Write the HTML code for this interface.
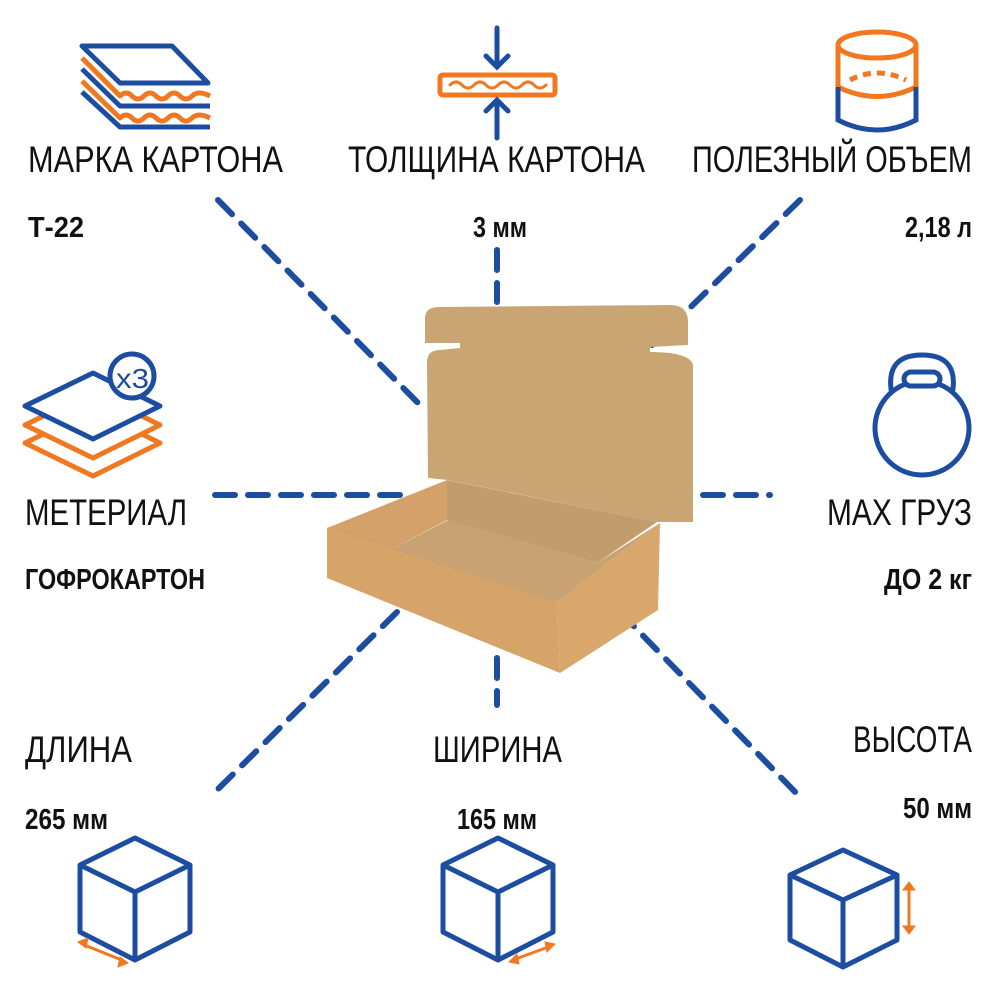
<!DOCTYPE html>
<html><head><meta charset="utf-8"><style>
html,body{margin:0;padding:0;background:#fff;}
svg{display:block}
.l{font-family:"Liberation Sans",sans-serif;font-size:37px;fill:#111}
.v{font-family:"Liberation Sans",sans-serif;font-size:29px;font-weight:bold;fill:#111}
</style></head><body>
<svg width="1000" height="1000" viewBox="0 0 1000 1000" xmlns="http://www.w3.org/2000/svg">
<g stroke="#1c4da0" stroke-width="6" stroke-dasharray="20 13" fill="none" stroke-linecap="round">
<line x1="218" y1="200" x2="420" y2="405"/>
<line x1="497" y1="250" x2="497" y2="302"/>
<line x1="800" y1="200" x2="652" y2="345"/>
<line x1="215" y1="495" x2="405" y2="495"/>
<line x1="703" y1="495" x2="770" y2="495"/>
<line x1="397" y1="612" x2="210" y2="797"/>
<line x1="497" y1="658" x2="497" y2="705"/>
<line x1="620" y1="612" x2="800" y2="797"/>
</g>
<g>
<path d="M425,318 Q425,307 440,307 L672,305 Q688,306 688,322 L688,345 L650,347 L650,352 Q690,352 693,365 L693,522 L657,522 L448,480 L428,478 L427,362 Q427,350 440,350 L460,348 L460,343 L425,343 Z" fill="#c9a574"/>
<path d="M327,528 L447,480 L447,520 L387,552 Z" fill="#d4a16a"/>
<path d="M447,480 L447,520 L597,563 L657,522 Z" fill="#c19c6c"/>
<path d="M387,552 L448,520 L597,563 L660,523 L557,602 Z" fill="#c8a273"/>
<path d="M327,528 L557,602 L560,673 L327,578 Z" fill="#d6a468"/>
<path d="M557,602 L660,523 L658,610 L560,673 Z" fill="#d9a66c"/>
</g>
<g fill="none" stroke-width="5" stroke-linejoin="round">
<path d="M82,46 L172,46 L208,83 L120,83 Z" stroke="#1c4da0"/>
<path d="M82,58 L120,96 Q126,90 132,96 T144,96 T156,96 T168,96 T180,96 T192,96 T210,96" stroke="#f07820"/>
<path d="M82,69 L120,106 L210,106" stroke="#1c4da0"/>
<path d="M82,81 L120,118 Q126,112 132,118 T144,118 T156,118 T168,118 T180,118 T192,118 T210,118" stroke="#f07820"/>
<path d="M82,92 L120,127 L210,127" stroke="#1c4da0"/>
</g>
<g fill="none" stroke-linecap="round">
<rect x="440" y="75" width="115" height="20" rx="3" stroke="#f07820" stroke-width="5"/>
<path d="M450,85 q6,-6 12,0 t12,0 t12,0 t12,0 t12,0 t12,0 t12,0 t12,0" stroke="#f07820" stroke-width="3"/>
<path d="M497,28 L497,66 M486,56 L497,67 L508,56" stroke="#1c4da0" stroke-width="5"/>
<path d="M497,138 L497,103 M486,111 L497,100 L508,111" stroke="#1c4da0" stroke-width="5"/>
</g>
<g fill="none" stroke-width="5">
<ellipse cx="877" cy="45" rx="39" ry="13" stroke="#f07820"/>
<path d="M838,45 L838,87 M916,45 L916,87" stroke="#f07820"/>
<path d="M838,87 Q877,106 916,87" stroke="#f07820"/>
<path d="M850,80 Q877,66 906,80" stroke="#f07820" stroke-dasharray="8 6"/>
<path d="M838,87 L838,120 Q877,140 916,120 L916,87" stroke="#1c4da0"/>
</g>
<g fill="none" stroke-width="5" stroke-linejoin="round">
<path d="M25,443 L93,410 L160,443 L93,476 Z" stroke="#f07820"/>
<path d="M25,425 L93,392 L160,425 L93,458 Z" stroke="#f07820" fill="#fff"/>
<path d="M25,406 L93,373 L160,406 L93,439 Z" stroke="#1c4da0" fill="#fff"/>
<circle cx="132" cy="376" r="22" stroke="#1c4da0" fill="#fff"/>
</g>
<text x="116" y="388" font-family="Liberation Sans,sans-serif" font-size="28" fill="#1c4da0" textLength="33" lengthAdjust="spacingAndGlyphs">x3</text>
<g fill="none" stroke="#1c4da0" stroke-width="5">
<path d="M892,395 Q884,355 922,355 Q960,355 952,395"/>
<circle cx="922" cy="428" r="47" fill="#fff"/>
<rect x="904" y="372" width="36" height="14" rx="7" fill="#fff"/>
</g>
<g fill="none" stroke="#1c4da0" stroke-width="5" stroke-linejoin="round">
<path d="M135,838 L190,865 L190,932 L135,960 L80,932 L80,865 Z M80,865 L135,892 L190,865 M135,892 L135,960"/>
<path d="M498,838 L553,865 L553,932 L498,960 L443,932 L443,865 Z M443,865 L498,892 L553,865 M498,892 L498,960"/>
<path d="M843,850 L897,875 L897,940 L843,967 L790,940 L790,875 Z M790,875 L843,900 L897,875 M843,900 L843,967"/>
</g>
<g stroke="#f07820" stroke-width="3" fill="#f07820">
<line x1="82" y1="944" x2="124" y2="961"/>
<path d="M78,942 L88,938 L86,948 Z M128,963 L118,967 L120,957 Z" stroke-width="1"/>
<line x1="513" y1="960" x2="551" y2="946"/>
<path d="M509,962 L517,954 L519,964 Z M555,944 L547,952 L545,942 Z" stroke-width="1"/>
<line x1="909" y1="888" x2="909" y2="928"/>
<path d="M903,890 L909,882 L915,890 Z M903,926 L909,934 L915,926 Z" stroke-width="1"/>
</g>
<text class="l" x="28" y="172" textLength="255" lengthAdjust="spacingAndGlyphs">МАРКА КАРТОНА</text>
<text class="l" x="348" y="172" textLength="297" lengthAdjust="spacingAndGlyphs">ТОЛЩИНА КАРТОНА</text>
<text class="l" x="692" y="172" textLength="280" lengthAdjust="spacingAndGlyphs">ПОЛЕЗНЫЙ ОБЪЕМ</text>
<text class="v" x="28" y="237" textLength="56" lengthAdjust="spacingAndGlyphs">Т-22</text>
<text class="v" x="473" y="237" textLength="54" lengthAdjust="spacingAndGlyphs">3 мм</text>
<text class="v" x="905" y="237" textLength="67" lengthAdjust="spacingAndGlyphs">2,18 л</text>
<text class="l" x="25" y="525" textLength="162" lengthAdjust="spacingAndGlyphs">МЕТЕРИАЛ</text>
<text class="v" x="25" y="589" textLength="180" lengthAdjust="spacingAndGlyphs">ГОФРОКАРТОН</text>
<text class="l" x="827" y="525" textLength="145" lengthAdjust="spacingAndGlyphs">MAX ГРУЗ</text>
<text class="v" x="884" y="589" textLength="88" lengthAdjust="spacingAndGlyphs">ДО 2 кг</text>
<text class="l" x="25" y="762" textLength="107" lengthAdjust="spacingAndGlyphs">ДЛИНА</text>
<text class="l" x="433" y="762" textLength="129" lengthAdjust="spacingAndGlyphs">ШИРИНА</text>
<text class="l" x="853" y="752" textLength="119" lengthAdjust="spacingAndGlyphs">ВЫСОТА</text>
<text class="v" x="25" y="829" textLength="83" lengthAdjust="spacingAndGlyphs">265 мм</text>
<text class="v" x="457" y="829" textLength="80" lengthAdjust="spacingAndGlyphs">165 мм</text>
<text class="v" x="903" y="818" textLength="69" lengthAdjust="spacingAndGlyphs">50 мм</text>
</svg>
</body></html>
